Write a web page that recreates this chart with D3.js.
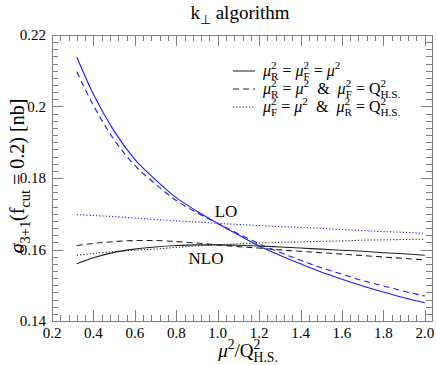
<html>
<head>
<meta charset="UTF-8">
<script src="https://d3js.org/d3.v7.min.js"></script>
</head>
<body style="margin:0">
<script>
const width = 436, height = 365;

// x values (mu^2 / Q^2_H.S.)
const xs = [0.32, 0.4, 0.5, 0.6, 0.7, 0.8, 0.9, 1.0, 1.1, 1.2, 1.3, 1.4, 1.5, 1.6, 1.7, 1.8, 1.9, 2.0];

// LO curves (blue)
const loSolid  = [0.2138, 0.2034, 0.1931, 0.1852, 0.1795, 0.1745, 0.1707, 0.1673, 0.1641, 0.1610, 0.1584, 0.1560, 0.1537, 0.1517, 0.1498, 0.1481, 0.1465, 0.1451];
const loDashed = [0.2097, 0.2003, 0.1907, 0.1835, 0.1783, 0.1737, 0.1703, 0.1673, 0.1644, 0.1616, 0.1592, 0.1570, 0.1549, 0.1531, 0.1513, 0.1498, 0.1483, 0.1470];
const loDotted = [0.1698, 0.1695, 0.1692, 0.1688, 0.1684, 0.1680, 0.1677, 0.1673, 0.1670, 0.1667, 0.1664, 0.1662, 0.1659, 0.1656, 0.1653, 0.1650, 0.1648, 0.1645];

// NLO curves (black)
const nloSolid  = [0.1560, 0.1577, 0.1592, 0.1601, 0.1607, 0.1611, 0.1613, 0.1613, 0.1612, 0.1610, 0.1607, 0.1604, 0.1601, 0.1598, 0.1595, 0.1591, 0.1588, 0.1584];
const nloDashed = [0.1611, 0.1617, 0.1622, 0.1625, 0.1625, 0.1622, 0.1618, 0.1613, 0.1608, 0.1604, 0.1599, 0.1595, 0.1591, 0.1587, 0.1583, 0.1579, 0.1575, 0.1571];
const nloDotted = [0.1584, 0.1589, 0.1594, 0.1598, 0.1601, 0.1606, 0.1610, 0.1613, 0.1616, 0.1618, 0.1620, 0.1621, 0.1623, 0.1624, 0.1626, 0.1627, 0.1628, 0.1629];

const xTicks = [0.2, 0.4, 0.6, 0.8, 1.0, 1.2, 1.4, 1.6, 1.8, 2.0];
const yTicks = [0.14, 0.16, 0.18, 0.2, 0.22];
const yTickLabels = ["0.14", "0.16", "0.18", "0.2", "0.22"];

const mLeft = 52, mRight = 432, mTop = 35, mBottom = 321;
const fontStyle = size => `font-family: "Times New Roman", "Liberation Serif", Tinos, serif; font-size: ${size}px`;

const x = d3.scaleLinear().domain([0.2, 2.035]).range([mLeft, mRight]);
const y = d3.scaleLinear().domain([0.14, 0.22]).range([mBottom, mTop]);

const svg = d3.select("body").append("svg")
  .attr("width", width).attr("height", height);

const frameCol = "#808080";

// ticks, all pointing inwards on every side
const xMinor = d3.range(0.2, 2.04, 0.04).filter(v => v <= 2.03);
const yMinor = d3.range(0.14, 0.2201, 0.002);
const isMajorX = v => xTicks.some(t => Math.abs(t - v) < 1e-6);
const isMajorY = v => yTicks.some(t => Math.abs(t - v) < 1e-6);

const tickG = svg.append("g").attr("stroke", frameCol).attr("stroke-width", 1);
xMinor.forEach(v => {
  const len = isMajorX(v) ? 11 : 6;
  const px = Math.round(x(v)) + 0.5;
  tickG.append("line").attr("x1", px).attr("x2", px).attr("y1", mBottom).attr("y2", mBottom - len);
  tickG.append("line").attr("x1", px).attr("x2", px).attr("y1", mTop).attr("y2", mTop + len);
});
yMinor.forEach(v => {
  const len = isMajorY(v) ? 11 : 6;
  const py = Math.round(y(v)) + 0.5;
  tickG.append("line").attr("x1", mLeft).attr("x2", mLeft + len).attr("y1", py).attr("y2", py);
  tickG.append("line").attr("x1", mRight).attr("x2", mRight - len).attr("y1", py).attr("y2", py);
});

svg.append("rect")
  .attr("x", mLeft + 0.5).attr("y", mTop + 0.5)
  .attr("width", mRight - mLeft).attr("height", mBottom - mTop)
  .attr("fill", "none").attr("stroke", frameCol);

// tick labels
svg.selectAll(".xl").data(xTicks).join("text")
  .attr("style", fontStyle(15))
  .attr("x", d => x(d)).attr("y", mBottom + 17)
  .attr("text-anchor", "middle")
  .text(d => d.toFixed(1));

svg.selectAll(".yl").data(yTicks).join("text")
  .attr("style", fontStyle(15))
  .attr("x", mLeft - 6).attr("y", d => y(d) + 5)
  .attr("text-anchor", "end")
  .text((d, i) => yTickLabels[i]);

// rich text helper: parts = [[text, kind], ...]
function rich(parent, px, py, parts, size, anchor, scale) {
  const sc = scale || 0.7;
  const t = parent.append("text").attr("x", px).attr("y", py)
    .attr("style", fontStyle(size) + "; white-space: pre")
    .attr("text-anchor", anchor || "start");
  let shift = 0;
  parts.forEach(([s, kind, s2]) => {
    if (kind === "sup" || kind === "sub") {
      const target = kind === "sup" ? -0.42 * size : 0.28 * size;
      t.append("tspan").attr("dy", target - shift).style("font-size", (size * sc) + "px").text(s);
      shift = target;
    } else if (kind === "both") {
      const a = t.append("tspan").attr("dy", -0.42 * size - shift).style("font-size", (size * sc) + "px").text(s);
      const w = a.node().getComputedTextLength();
      t.append("tspan").attr("dx", -w).attr("dy", 0.7 * size).style("font-size", (size * sc) + "px").text(s2);
      shift = 0.28 * size;
    } else {
      const sp = t.append("tspan").attr("dy", -shift).text(s);
      if (kind === "i") sp.attr("font-style", "italic");
      shift = 0;
    }
  });
  return t;
}

// title
rich(svg, 240, 19, [["k", "n"], ["\u22A5", "sub"], [" algorithm", "n"]], 19, "middle");

// axis titles
rich(svg, 248, 357, [["\u03BC", "i"], ["2", "sup"], ["/Q", "n"], ["2", "both", "H.S."]], 19, "middle", 0.72);

const yl = svg.append("g").attr("transform", "translate(24,176) rotate(-90)");
rich(yl, 0, 0, [["\u03C3", "i"], ["3+1", "sub"], ["(f", "n"], ["cut", "sub"], [" = 0.2) [nb]", "n"]], 20, "middle", 0.72);

// curves
const line = d3.line().x((d, i) => x(xs[i])).y(d => y(d)).curve(d3.curveMonotoneX);
const blue = "#1a1aff", black = "#222";
const series = [
  [loSolid, blue, null], [loDashed, blue, "6,4"], [loDotted, blue, "1.2,2"],
  [nloSolid, black, null], [nloDashed, black, "6,4"], [nloDotted, black, "1.2,2"]
];
series.forEach(([vals, col, dash]) => {
  svg.append("path").datum(vals).attr("d", line)
    .attr("fill", "none").attr("stroke", col).attr("stroke-width", 1.1)
    .attr("stroke-dasharray", dash);
});

// curve labels
svg.append("text").attr("style", fontStyle(17))
  .attr("x", 226).attr("y", 217).attr("text-anchor", "middle").text("LO");
svg.append("text").attr("style", fontStyle(17))
  .attr("x", 206).attr("y", 264).attr("text-anchor", "middle").text("NLO");

// legend
const legRows = [
  [null, [["\u03BC", "i"], ["2", "both", "R"], [" = ", "n"], ["\u03BC", "i"], ["2", "both", "F"], [" = ", "n"], ["\u03BC", "i"], ["2", "sup"]]],
  ["6,4", [["\u03BC", "i"], ["2", "both", "R"], [" = ", "n"], ["\u03BC", "i"], ["2", "sup"], ["  &  ", "n"], ["\u03BC", "i"], ["2", "both", "F"], [" = Q", "n"], ["2", "both", "H.S."]]],
  ["1.2,2", [["\u03BC", "i"], ["2", "both", "F"], [" = ", "n"], ["\u03BC", "i"], ["2", "sup"], ["  &  ", "n"], ["\u03BC", "i"], ["2", "both", "R"], [" = Q", "n"], ["2", "both", "H.S."]]]
];
legRows.forEach(([dash, parts], i) => {
  const ly = 71 + i * 18;
  svg.append("line").attr("x1", 233).attr("x2", 255).attr("y1", ly).attr("y2", ly)
    .attr("stroke", black).attr("stroke-width", 1).attr("stroke-dasharray", dash);
  rich(svg, 263, ly + 5, parts, 16, "start");
});
</script>
</body>
</html>
